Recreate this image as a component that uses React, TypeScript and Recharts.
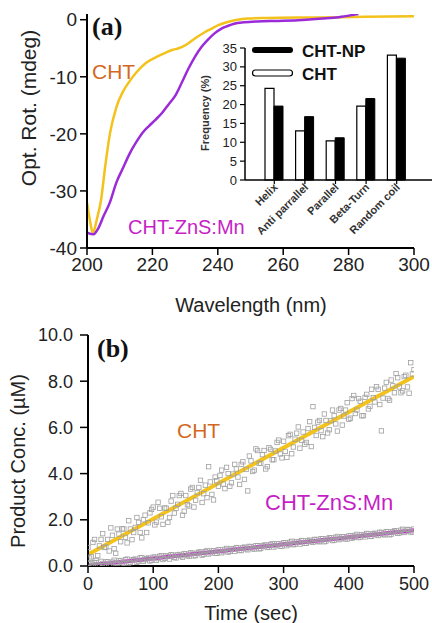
import React from 'react';
import { LineChart, Line, XAxis, YAxis, BarChart, Bar, ComposedChart, Scatter } from 'recharts';

const FONT = '"Liberation Sans", Arial, Helvetica, sans-serif';
const SERIF = '"Liberation Serif", "Times New Roman", serif';

// ---------- Panel (a): CD spectra ----------
const chtWavelength = [200, 201, 201.8, 203, 204.3, 205.5, 207, 209, 211, 213, 215, 218, 221, 224, 226, 228, 230, 232, 234, 236, 238, 240, 243, 246, 249, 255, 270, 285, 300];
const chtRotation = [-32, -35.5, -37.4, -35, -31.6, -26, -20, -15.3, -12.6, -10.8, -9.3, -7.6, -6.6, -5.8, -5.3, -5.0, -4.5, -3.7, -2.9, -2.2, -1.6, -1.0, -0.4, 0.0, 0.2, 0.3, 0.4, 0.5, 0.6];
const znsWavelength = [200, 202, 203.5, 205, 207, 209, 211, 213, 215, 217, 219, 221, 223, 225, 227, 229, 231, 233, 235, 237, 239, 241, 243, 245, 248, 252, 260, 267, 272, 277, 281, 283];
const znsRotation = [-37.3, -37.6, -36.5, -34.5, -32, -28.5, -26, -23.5, -21.5, -19.8, -18.6, -17.5, -16.3, -14.8, -13.3, -11.0, -8.6, -6.5, -4.8, -3.5, -2.4, -1.6, -1.1, -0.7, -0.45, -0.3, -0.2, 0, 0.2, 0.45, 0.8, 1.0];
const wavelengthTicks = [200, 220, 240, 260, 280, 300];
const rotationTicks = [-40, -30, -20, -10, 0];

// ---------- Inset: secondary structure ----------
const structureCategories = ['Helix', 'Anti parrallel', 'Parallel', 'Beta-Turn', 'Random coil'];
const chtFrequency = [24.3, 13.0, 10.4, 19.6, 33.1];
const chtNpFrequency = [19.6, 16.8, 11.2, 21.6, 32.3];
const frequencyTicks = [0, 5, 10, 15, 20, 25, 30, 35];

// ---------- Panel (b): kinetics ----------
const timeSec = [0, 5, 10, 15, 20, 25, 30, 35, 40, 45, 50, 55, 60, 65, 70, 75, 80, 85, 90, 95, 100, 105, 110, 115, 120, 125, 130, 135, 140, 145, 150, 155, 160, 165, 170, 175, 180, 185, 190, 195, 200, 205, 210, 215, 220, 225, 230, 235, 240, 245, 250, 255, 260, 265, 270, 275, 280, 285, 290, 295, 300, 305, 310, 315, 320, 325, 330, 335, 340, 345, 350, 355, 360, 365, 370, 375, 380, 385, 390, 395, 400, 405, 410, 415, 420, 425, 430, 435, 440, 445, 450, 455, 460, 465, 470, 475, 480, 485, 490, 495, 500];
const chtConc = [
  0.8, 0.4, 1.15, 0.45, 1.15, 0.8, 1.15, 1.65, 0.75, 1.6,
  1.05, 1.6, 1.0, 1.6, 1.45, 2.1, 1.45, 2.0, 1.45, 2.3,
  2.55, 1.9, 2.5, 1.8, 2.5, 2.1, 3.05, 2.5, 3.05, 2.2,
  3.05, 2.6, 3.4, 2.85, 3.4, 2.75, 3.5, 4.3, 3.1, 3.85,
  3.45, 4.15, 3.35, 4.0, 3.6, 4.4, 3.85, 4.4, 3.75, 3.25,
  4.55, 4.15, 5.0, 4.45, 5.0, 4.3, 5.05, 4.6, 5.35, 4.85,
  5.4, 4.7, 5.7, 5.15, 5.75, 5.1, 5.8, 5.35, 6.25, 6.9,
  5.65, 6.3, 5.6, 6.3, 5.9, 6.75, 6.15, 6.75, 6.1, 6.75,
  6.35, 7.25, 6.6, 7.25, 6.5, 7.3, 6.8, 7.65, 7.1, 7.65,
  5.85, 7.7, 7.25, 8.05, 7.5, 8.15, 7.5, 8.2, 7.75, 8.8,
  8.5,
];
const znsConc = [
  0.12, 0.0, 0.15, 0.05, 0.2, 0.03, 0.18, 0.08, 0.25, 0.1,
  0.22, 0.12, 0.3, 0.15, 0.28, 0.16, 0.35, 0.2, 0.32, 0.22,
  0.38, 0.25, 0.42, 0.28, 0.45, 0.3, 0.47, 0.35, 0.5, 0.38,
  0.52, 0.42, 0.55, 0.45, 0.6, 0.47, 0.62, 0.52, 0.65, 0.55,
  0.7, 0.57, 0.72, 0.6, 0.75, 0.63, 0.78, 0.67, 0.82, 0.7,
  0.84, 0.73, 0.88, 0.76, 0.9, 0.8, 0.93, 0.82, 0.97, 0.85,
  1.0, 0.88, 1.03, 0.92, 1.06, 0.95, 1.1, 0.98, 1.12, 1.02,
  1.15, 1.05, 1.18, 1.08, 1.22, 1.1, 1.24, 1.14, 1.27, 1.17,
  1.3, 1.2, 1.33, 1.23, 1.36, 1.26, 1.39, 1.29, 1.42, 1.32,
  1.45, 1.35, 1.48, 1.38, 1.52, 1.41, 1.55, 1.45, 1.58, 1.48,
  1.6,
];
const timeSecB = [2.5, 7.5, 12.5, 17.5, 22.5, 27.5, 32.5, 37.5, 42.5, 47.5, 52.5, 57.5, 62.5, 67.5, 72.5, 77.5, 82.5, 87.5, 92.5, 97.5, 102.5, 107.5, 112.5, 117.5, 122.5, 127.5, 132.5, 137.5, 142.5, 147.5, 152.5, 157.5, 162.5, 167.5, 172.5, 177.5, 182.5, 187.5, 192.5, 197.5, 202.5, 207.5, 212.5, 217.5, 222.5, 227.5, 232.5, 237.5, 242.5, 247.5, 252.5, 257.5, 262.5, 267.5, 272.5, 277.5, 282.5, 287.5, 292.5, 297.5, 302.5, 307.5, 312.5, 317.5, 322.5, 327.5, 332.5, 337.5, 342.5, 347.5, 352.5, 357.5, 362.5, 367.5, 372.5, 377.5, 382.5, 387.5, 392.5, 397.5, 402.5, 407.5, 412.5, 417.5, 422.5, 427.5, 432.5, 437.5, 442.5, 447.5, 452.5, 457.5, 462.5, 467.5, 472.5, 477.5, 482.5, 487.5, 492.5, 497.5];
const chtConcB = [
  0.34, 1.02, 0.24, 0.87, 1.40, 0.82, 0.65, 1.33, 0.55, 1.38,
  1.61, 1.24, 1.96, 1.14, 1.67, 1.89, 1.22, 2.20, 1.87, 2.45,
  1.78, 2.76, 2.13, 2.51, 1.89, 2.81, 2.29, 2.67, 3.14, 2.37,
  2.65, 3.33, 2.55, 3.18, 3.71, 3.13, 2.96, 3.64, 2.86, 3.69,
  3.92, 3.55, 4.27, 3.45, 3.98, 4.20, 3.53, 4.51, 4.18, 4.76,
  4.09, 5.07, 4.44, 4.82, 4.20, 5.12, 4.60, 4.98, 5.45, 4.68,
  4.96, 5.64, 4.86, 5.49, 6.02, 5.44, 5.27, 5.95, 5.17, 6.00,
  6.23, 5.86, 6.58, 5.76, 6.29, 6.51, 5.84, 6.82, 6.49, 7.07,
  6.40, 7.38, 6.75, 7.13, 6.51, 7.43, 6.91, 7.29, 7.76, 6.99,
  7.27, 7.95, 7.17, 7.80, 8.33, 7.75, 7.58, 8.26, 7.48, 8.31,
];
const znsConcB = [
  0.09, 0.01, 0.15, 0.02, 0.11, 0.18, 0.06, 0.17, 0.13, 0.24,
  0.14, 0.27, 0.13, 0.26, 0.30, 0.21, 0.36, 0.27, 0.35, 0.25,
  0.39, 0.32, 0.45, 0.33, 0.41, 0.49, 0.37, 0.48, 0.44, 0.54,
  0.45, 0.57, 0.44, 0.56, 0.61, 0.51, 0.67, 0.57, 0.66, 0.55,
  0.70, 0.62, 0.76, 0.64, 0.72, 0.80, 0.67, 0.79, 0.74, 0.85,
  0.75, 0.88, 0.74, 0.87, 0.91, 0.82, 0.97, 0.88, 0.96, 0.86,
  1.01, 0.93, 1.07, 0.94, 1.03, 1.10, 0.98, 1.09, 1.05, 1.15,
  1.06, 1.18, 1.05, 1.17, 1.22, 1.12, 1.28, 1.18, 1.27, 1.17,
  1.31, 1.24, 1.37, 1.25, 1.33, 1.41, 1.28, 1.40, 1.35, 1.46,
  1.36, 1.49, 1.35, 1.48, 1.52, 1.43, 1.59, 1.49, 1.58, 1.47,
];
const fitTime = [0, 500];
const chtFitConc = [0.5, 8.2];
const znsFitConc = [0.02, 1.55];
const concTicks = [0, 2, 4, 6, 8, 10];
const timeTicks = [0, 100, 200, 300, 400, 500];

// ---------- derived tables ----------
const chtSpectrum = chtWavelength.map((wl, i) => ({ wl, v: chtRotation[i] }));
const znsSpectrum = znsWavelength.map((wl, i) => ({ wl, v: znsRotation[i] }));
const structureData = structureCategories.map((name, i) => ({ name, cht: chtFrequency[i], np: chtNpFrequency[i] }));
const chtPoints = [
  ...timeSec.map((t, i) => ({ t, c: chtConc[i] })),
  ...timeSecB.map((t, i) => ({ t, c: chtConcB[i] })),
];
const znsPoints = [
  ...timeSec.map((t, i) => ({ t, c: znsConc[i] })),
  ...timeSecB.map((t, i) => ({ t, c: znsConcB[i] })),
];
const chtFit = fitTime.map((t, i) => ({ t, c: chtFitConc[i] }));
const znsFit = fitTime.map((t, i) => ({ t, c: znsFitConc[i] }));

const YELLOW = '#F3C21B';
const PURPLE = '#9B2BD9';
const MAGENTA = '#CC22D8';
const ORANGE = '#D2691E';
const LABEL_MAGENTA = '#C61FC6';
const TEXT = '#222';

const tickStyle = { fontSize: 19, fill: TEXT, fontFamily: FONT };
const tickStyleB = { fontSize: 18, fill: TEXT, fontFamily: FONT };

const SquareDot = (props: any) => {
  const { cx, cy } = props;
  if (cx == null || cy == null) return <g />;
  return <rect x={cx - 2.2} y={cy - 2.2} width={4.4} height={4.4} fill="none" stroke="#a0a0a0" strokeWidth={0.8} />;
};

const CategoryTick = (props: any) => {
  const { x, y, payload } = props;
  return (
    <g transform={`translate(${x + 4},${y + 2})`}>
      <text transform="rotate(-45)" textAnchor="end" fontSize={11} fontWeight="bold" fill="#333" fontFamily={FONT}>
        {payload.value}
      </text>
    </g>
  );
};

export default function App() {
  return (
    <div style={{ position: 'absolute', left: 0, top: 0, width: 432, height: 623, background: '#fff', overflow: 'hidden' }}>
      {/* Panel (a) */}
      <div style={{ position: 'absolute', left: 0, top: 0 }}>
        <LineChart width={432} height={310} margin={{ top: 14, right: 18, left: 0, bottom: 0 }}>
          <XAxis
            type="number"
            dataKey="wl"
            domain={[200, 300]}
            ticks={wavelengthTicks}
            allowDataOverflow
            height={62}
            tickSize={7}
            tickMargin={3}
            stroke="#000"
            axisLine={{ stroke: '#000', strokeWidth: 2 }}
            tickLine={{ stroke: '#000', strokeWidth: 1.5 }}
            tick={tickStyle}
          />
          <YAxis
            type="number"
            domain={[-40, 1]}
            ticks={rotationTicks}
            allowDataOverflow
            width={87}
            tickSize={7}
            tickMargin={3}
            stroke="#000"
            axisLine={{ stroke: '#000', strokeWidth: 2 }}
            tickLine={{ stroke: '#000', strokeWidth: 1.5 }}
            tick={tickStyle}
          />
          <Line data={chtSpectrum} dataKey="v" type="monotone" stroke={YELLOW} strokeWidth={2.5} dot={false} isAnimationActive={false} />
          <Line data={znsSpectrum} dataKey="v" type="monotone" stroke={PURPLE} strokeWidth={2.5} dot={false} isAnimationActive={false} />
        </LineChart>
      </div>

      {/* Inset bar chart */}
      <div style={{ position: 'absolute', left: 0, top: 0 }}>
        <BarChart width={432} height={240} data={structureData} margin={{ top: 48, right: 0, left: 0, bottom: 0 }} barGap={0} barSize={9}>
          <XAxis
            dataKey="name"
            type="category"
            padding={{ left: 14, right: 20 }}
            height={60}
            tickSize={4}
            tickMargin={2}
            interval={0}
            stroke="#000"
            axisLine={{ stroke: '#000', strokeWidth: 1.5 }}
            tickLine={{ stroke: '#000', strokeWidth: 1.2 }}
            tick={<CategoryTick />}
          />
          <YAxis
            type="number"
            domain={[0, 35]}
            ticks={frequencyTicks}
            interval={0}
            width={245}
            tickSize={5}
            tickMargin={3}
            stroke="#000"
            axisLine={{ stroke: '#000', strokeWidth: 1.5 }}
            tickLine={{ stroke: '#000', strokeWidth: 1.2 }}
            tick={{ fontSize: 13, fill: TEXT, fontFamily: FONT }}
          />
          <Bar dataKey="cht" fill="#fff" stroke="#000" strokeWidth={1.2} isAnimationActive={false} />
          <Bar dataKey="np" fill="#000" stroke="#000" strokeWidth={1} isAnimationActive={false} />
        </BarChart>
      </div>

      {/* Panel (b) */}
      <div style={{ position: 'absolute', left: 0, top: 310 }}>
        <ComposedChart width={432} height={313} margin={{ top: 25, right: 18, left: 0, bottom: 0 }}>
          <XAxis
            type="number"
            dataKey="t"
            domain={[0, 500]}
            ticks={timeTicks}
            allowDataOverflow
            height={57}
            tickSize={7}
            tickMargin={4}
            stroke="#000"
            axisLine={{ stroke: '#000', strokeWidth: 2 }}
            tickLine={{ stroke: '#000', strokeWidth: 1.5 }}
            tick={tickStyleB}
          />
          <YAxis
            type="number"
            dataKey="c"
            domain={[0, 10]}
            ticks={concTicks}
            interval={0}
            allowDataOverflow
            width={88}
            tickSize={8}
            tickMargin={7}
            tickFormatter={(v: number) => v.toFixed(1)}
            stroke="#000"
            axisLine={{ stroke: '#000', strokeWidth: 2 }}
            tickLine={{ stroke: '#000', strokeWidth: 1.5 }}
            tick={tickStyleB}
          />
          <Scatter data={chtPoints} dataKey="c" shape={SquareDot} isAnimationActive={false} />
          <Scatter data={znsPoints} dataKey="c" shape={SquareDot} isAnimationActive={false} />
          <Line data={chtFit} dataKey="c" type="linear" stroke={YELLOW} strokeWidth={4} dot={false} isAnimationActive={false} />
          <Line data={znsFit} dataKey="c" type="linear" stroke={MAGENTA} strokeWidth={4} dot={false} isAnimationActive={false} />
        </ComposedChart>
      </div>

      {/* Annotation text */}
      <svg width={432} height={623} style={{ position: 'absolute', left: 0, top: 0, pointerEvents: 'none' }}>
        <text x={92} y={35} fontFamily={SERIF} fontWeight="bold" fontSize={26} fill="#111">(a)</text>
        <text x={92} y={79} fontFamily={FONT} fontSize={21} fill={ORANGE}>CHT</text>
        <text x={128} y={234} fontFamily={FONT} fontSize={20} fill={LABEL_MAGENTA}>CHT-ZnS:Mn</text>
        <text x={28} y={108} transform="rotate(-90 28 108)" textAnchor="middle" dominantBaseline="central" fontFamily={FONT} fontSize={21} fill={TEXT}>Opt. Rot. (mdeg)</text>
        <text x={251} y={312} textAnchor="middle" fontFamily={FONT} fontSize={20} fill={TEXT}>Wavelength (nm)</text>

        <text x={205} y={113} transform="rotate(-90 205 113)" textAnchor="middle" dominantBaseline="central" fontFamily={FONT} fontSize={11} fontWeight="bold" fill="#333">Frequency (%)</text>
        <rect x={252} y={47} width={41} height={6} rx={3} fill="#000" />
        <rect x={252.5} y={70} width={40} height={6} rx={3} fill="#fff" stroke="#000" strokeWidth={1.2} />
        <text x={302} y={57} fontFamily={FONT} fontSize={17} fontWeight="bold" fill="#111">CHT-NP</text>
        <text x={302} y={79.5} fontFamily={FONT} fontSize={17} fontWeight="bold" fill="#111">CHT</text>

        <text x={97} y={357} fontFamily={SERIF} fontWeight="bold" fontSize={26} fill="#111">(b)</text>
        <text x={177} y={437.5} fontFamily={FONT} fontSize={21} fill={ORANGE}>CHT</text>
        <text x={265} y={509.5} fontFamily={FONT} fontSize={22} fill={LABEL_MAGENTA}>CHT-ZnS:Mn</text>
        <text x={18} y={461} transform="rotate(-90 18 461)" textAnchor="middle" dominantBaseline="central" fontFamily={FONT} fontSize={20} fill={TEXT}>Product Conc. (µM)</text>
        <text x={251} y={620} textAnchor="middle" fontFamily={FONT} fontSize={20} fill={TEXT}>Time (sec)</text>
      </svg>
    </div>
  );
}
